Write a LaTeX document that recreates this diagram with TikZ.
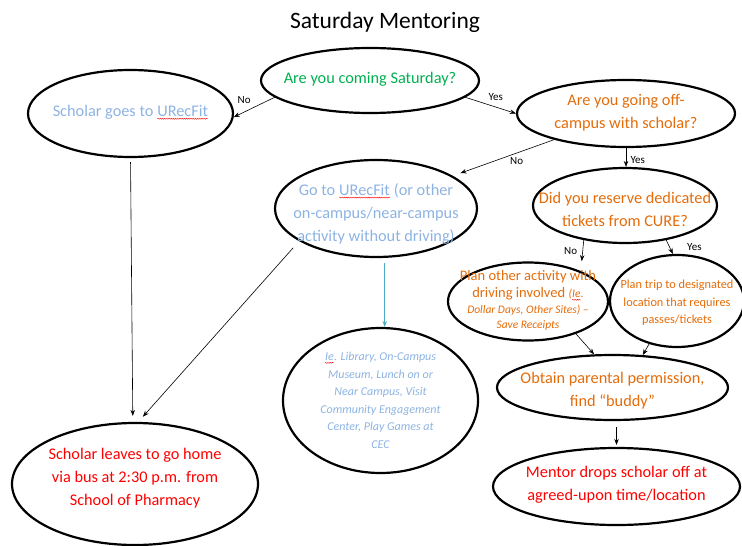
\documentclass[tikz,border=0pt]{standalone}
\usepackage{fontspec}
\setmainfont{Carlito}
\usetikzlibrary{shapes.geometric,arrows.meta,decorations.pathmorphing}
\definecolor{cgreen}{HTML}{00B050}
\definecolor{clblue}{HTML}{8DB3E2}
\definecolor{corange}{HTML}{E46C0A}
\definecolor{cred}{HTML}{FF0000}
\definecolor{cline}{HTML}{4BACC6}
\newcommand{\spell}[1]{\tikz[baseline=(w.base)]{\node[shape=rectangle, draw=none, minimum width=0pt,
    minimum height=0pt, inner sep=0pt, outer sep=0pt, anchor=base] (w) {#1};
  \draw[red, line width=0.4pt, decorate, decoration={snake, amplitude=0.5pt, segment length=2.2pt}]
    ([yshift=-2pt]w.base west) -- ([yshift=-2pt]w.base east);}}
\begin{document}
\begin{tikzpicture}[
    x=1pt, y=-1pt,
    bubble/.style={ellipse, draw, line width=2.2pt, inner sep=0pt},
    txt/.style={align=center, inner sep=0pt},
    big/.style={txt, font=\fontsize{16.3}{23}\selectfont},
    small/.style={txt, font=\fontsize{12.3}{17.5}\selectfont},
    link/.style={-{Stealth[length=6pt,width=4.5pt]}, line width=0.6pt},
    lab/.style={font=\fontsize{11}{13}\selectfont}
  ]
  \useasboundingbox (0,0) rectangle (742,546);
  \node (title) at (385,22) {\fontsize{23.5}{28}\selectfont Saturday Mentoring};
  \node (coming) [bubble, minimum width=218pt, minimum height=65pt,
    label={[big, text=cgreen, yshift=1pt]center:{Are you coming Saturday?}}] at (370,80.5) {};
  \node (sgoes) [bubble, minimum width=205pt, minimum height=87pt,
    label={[big, text=clblue, yshift=1pt]center:{Scholar goes to \spell{URecFit}}}] at (130.5,113.5) {};
  \node (offc) [bubble, minimum width=218pt, minimum height=67pt,
    label={[big, text=corange, yshift=1pt]center:{Are you going off-\\campus with scholar?}}] at (626,113.5) {};
  \node (gourec) [bubble, minimum width=202pt, minimum height=97pt,
    label={[big, text=clblue, yshift=-5.5pt]center:{Go to \spell{URecFit} (or other\\on-campus/near-campus\\activity without driving)}}] at (376,208.5) {};
  \node (reserve) [bubble, minimum width=184pt, minimum height=75pt,
    label={[big, text=corange, yshift=-3.5pt]center:{Did you reserve dedicated\\tickets from CURE?}}] at (625,205.5) {};
  \node (planother) [bubble, minimum width=160pt, minimum height=78pt,
    label={[txt, text=corange, yshift=1pt]center:{\fontsize{14.5}{20}\selectfont Plan other activity with\\[4pt]
     \fontsize{14.5}{20}\selectfont driving involved {\fontsize{11.5}{16}\selectfont\itshape (\spell{Ie}.}\\[4pt]
     \fontsize{11.5}{16}\selectfont\itshape Dollar Days, Other Sites) --\\[3pt]
     \fontsize{11.5}{16}\selectfont\itshape Save Receipts}}] at (528,301.5) {};
  \node (plantrip) [bubble, minimum width=134pt, minimum height=92pt,
    label={[small, text=corange, yshift=-2pt]center:{Plan trip to designated\\location that requires\\passes/tickets}}] at (677,301) {};
  \node (ie) [bubble, minimum width=195pt, minimum height=145pt,
    label={[txt, text=clblue, font=\fontsize{12}{17.5}\selectfont\itshape]center:{\spell{Ie}. Library, On-Campus\\Museum, Lunch on or\\Near Campus, Visit\\Community Engagement\\Center, Play Games at\\CEC}}] at (380.5,400.5) {};
  \node (obtain) [bubble, minimum width=231pt, minimum height=65pt,
    label={[big, text=corange, yshift=-3pt]center:{Obtain parental permission,\\find “buddy”}}] at (612.5,387.5) {};
  \node (mentor) [bubble, minimum width=247pt, minimum height=77pt,
    label={[big, text=cred, yshift=2pt]center:{Mentor drops scholar off at\\agreed-upon time/location}}] at (616.5,486.5) {};
  \node (sleaves) [bubble, minimum width=246pt, minimum height=122pt,
    label={[big, text=cred, yshift=6pt]center:{Scholar leaves to go home\\via bus at 2:30 p.m. from\\School of Pharmacy}}] at (135,484) {};

  \draw[link] (coming.190) -- (sgoes.-2) node[lab, midway, above left=0pt] {No};
  \draw[link] (coming.-10) -- (offc.west) node[lab, pos=0.6, above=3pt] {Yes};
  \draw[link, shorten >=8pt] (offc.200) -- (gourec.23) node[lab, pos=0.45, below right=-2pt] {No};
  \draw[link] (offc.south) -- (offc.south |- reserve.north) node[lab, pos=0.65, right=1pt] {Yes};
  \draw[link, shorten >=10pt] (reserve.220) -- (planother.30) node[lab, pos=0.35, left=2pt] {No};
  \draw[link] (reserve.-40) -- (plantrip.95) node[lab, midway, right=14pt] {Yes};
  \draw[link] (planother.-34) -- (obtain.119);
  \draw[link] (plantrip.237) -- (obtain.47);
  \draw[link, shorten <=6pt, shorten >=2pt] (mentor.north |- obtain.south) -- (mentor.north);
  \draw[link, cline, shorten <=5pt] (gourec.-80.5) -- (gourec.-80.5 |- ie.north);
  \draw[link, shorten <=4pt, shorten >=6pt] (sgoes.south) -- (sleaves.92);
  \draw[link, shorten <=9pt, shorten >=7pt] (gourec.203.5) -- (sleaves.87);
\end{tikzpicture}
\end{document}
